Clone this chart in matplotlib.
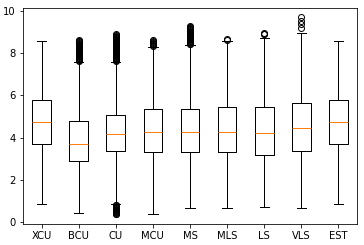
import matplotlib
matplotlib.use('Agg')
from matplotlib import pyplot as plt

labels = ['XCU', 'BCU', 'CU', 'MCU', 'MS', 'MLS', 'LS', 'VLS', 'EST']
whislo = [0.85, 0.44, 0.86, 0.39, 0.67, 0.66, 0.70, 0.66, 0.85]
q1 = [3.70, 2.91, 3.38, 3.33, 3.33, 3.33, 3.19, 3.38, 3.70]
med = [4.72, 3.70, 4.17, 4.27, 4.27, 4.27, 4.22, 4.47, 4.72]
q3 = [5.78, 4.77, 5.05, 5.34, 5.34, 5.44, 5.44, 5.63, 5.78]
whishi = [8.56, 7.58, 7.58, 8.31, 8.39, 8.55, 8.72, 8.97, 8.56]
fliers = [
    [],
    [7.62, 7.65, 7.68, 7.72, 7.75, 7.78, 7.82, 7.85, 7.88, 7.92, 7.95, 7.98,
     8.02, 8.05, 8.08, 8.12, 8.15, 8.18, 8.22, 8.25, 8.28, 8.32, 8.35, 8.38,
     8.42, 8.45, 8.48, 8.52, 8.55, 8.58, 8.61],
    [0.38, 0.41, 0.44, 0.47, 0.5, 0.53, 0.56, 0.59, 0.62, 0.65, 0.68, 0.71,
     0.74, 0.77, 0.8, 0.83,
     7.62, 7.65, 7.68, 7.72, 7.75, 7.78, 7.82, 7.85, 7.88, 7.92, 7.95, 7.98,
     8.02, 8.05, 8.08, 8.12, 8.15, 8.18, 8.22, 8.25, 8.28, 8.32, 8.35, 8.38,
     8.42, 8.45, 8.48, 8.52, 8.55, 8.58, 8.62, 8.65, 8.68, 8.72, 8.75, 8.78,
     8.82, 8.85, 8.89],
    [8.35, 8.38, 8.42, 8.45, 8.48, 8.52, 8.55, 8.6],
    [8.42, 8.45, 8.48, 8.52, 8.55, 8.58, 8.62, 8.65, 8.68, 8.72, 8.75, 8.78,
     8.82, 8.85, 8.88, 8.92, 8.95, 8.98, 9.02, 9.05, 9.08, 9.12, 9.15, 9.18,
     9.22, 9.25, 9.28],
    [8.6, 8.65],
    [8.88, 8.92, 8.95],
    [9.2, 9.38, 9.53, 9.69],
    [],
]

stats = []
for i in range(len(labels)):
    stats.append(dict(label=labels[i], whislo=whislo[i], q1=q1[i], med=med[i],
                      q3=q3[i], whishi=whishi[i], fliers=fliers[i]))

fig = plt.figure(figsize=(364 / 72, 245 / 72), dpi=72)
ax = fig.add_subplot(111)
fig.subplots_adjust(left=23 / 364, right=357 / 364, top=1 - 7.5 / 245, bottom=1 - 224 / 245)

ax.bxp(stats)
ax.set_yticks([0, 2, 4, 6, 8, 10])

fig.savefig('out.png', dpi=72)
